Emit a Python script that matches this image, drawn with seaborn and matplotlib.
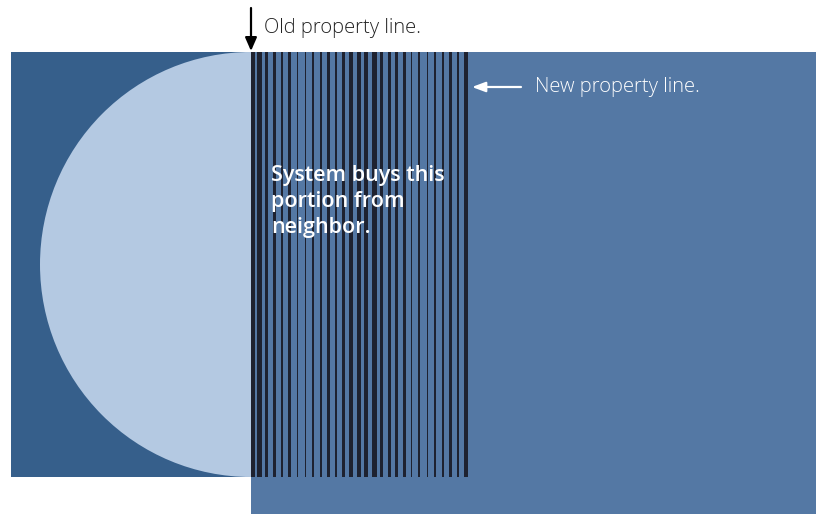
"""
Property line diagram: system buys a strip from the neighbor
"""

import matplotlib

matplotlib.use("Agg")
import matplotlib.pyplot as plt
import seaborn as sns
from matplotlib.patches import Ellipse, Rectangle

# Layout of the plots (pixel units, y grows downward)
W, H = 816, 514
old_line_x = 251
new_line_x = 470
top_y, bottom_y = 52, 477
left_x = 11
circle_left_x = 40

# Stripe centers and widths in the purchased strip
stripe_x = [
    252.8, 259.5, 266.8, 274.7, 282.2, 289.5, 297.5, 305.5, 313.2, 321.0,
    328.7, 336.2, 343.3, 350.8, 358.8, 366.2, 374.3, 381.7, 389.3, 396.8,
    404.5, 411.5, 419.2, 427.3, 435.0, 443.0, 450.5, 458.0, 465.8,
]
stripe_w = [
    4.3, 4.3, 3.0, 2.7, 2.3, 2.3, 1.7, 1.0, 1.7, 2.0,
    2.7, 2.3, 3.3, 3.7, 4.3, 4.3, 4.7, 3.3, 3.3, 3.0,
    2.3, 1.7, 1.7, 1.3, 1.3, 2.0, 2.3, 2.7, 3.7,
]

# Colors
dark_blue = "#365f8b"
light_blue = "#b4c9e2"
mid_blue = "#5478a4"
stripe_color = "#1e2230"

sns.set_style("white")
plt.rcParams["font.family"] = ["Open Sans", "DejaVu Sans"]

fig = plt.figure(figsize=(W / 100, H / 100), dpi=100)
ax = fig.add_axes([0, 0, 1, 1])
ax.set_xlim(0, W)
ax.set_ylim(H, 0)
ax.axis("off")

# Own lot (dark) with circular system footprint
ax.add_patch(
    Rectangle((left_x, top_y), old_line_x - left_x, bottom_y - top_y,
              facecolor=dark_blue, edgecolor="none", zorder=1)
)
ax.add_patch(
    Ellipse((old_line_x, (top_y + bottom_y) / 2),
            2 * (old_line_x - circle_left_x), bottom_y - top_y,
            facecolor=light_blue, edgecolor="none", zorder=2)
)

# Neighbor lot
ax.add_patch(
    Rectangle((old_line_x, top_y), W - old_line_x, H - top_y,
              facecolor=mid_blue, edgecolor="none", zorder=3)
)

# Purchased strip
ax.bar(stripe_x, bottom_y - top_y, width=stripe_w, bottom=top_y,
       color=stripe_color, linewidth=0, zorder=4)

# Arrows
ax.annotate("", xy=(old_line_x, top_y - 1), xytext=(old_line_x, 8),
            arrowprops=dict(arrowstyle="-|>,head_width=0.35,head_length=0.8",
                            color="black", lw=1.6, shrinkA=0, shrinkB=0),
            zorder=6)
ax.annotate("", xy=(new_line_x + 2, 87), xytext=(521, 87),
            arrowprops=dict(arrowstyle="-|>,head_width=0.3,head_length=0.8",
                            color="white", lw=1.6, shrinkA=0, shrinkB=0),
            zorder=6)

# Labels
ax.text(264, 28, "Old property line.", color="#222222", fontsize=14.5,
        fontweight="light", ha="left", va="center", zorder=6)
ax.text(535, 87, "New property line.", color="white", fontsize=14.5,
        fontweight="light", ha="left", va="center", zorder=6)
ax.text(271, 165, "System buys this\nportion from\nneighbor.", color="white",
        fontsize=15.5, fontweight="semibold", ha="left", va="top",
        linespacing=1.32, zorder=6)

fig.savefig("out.png", dpi=100)
